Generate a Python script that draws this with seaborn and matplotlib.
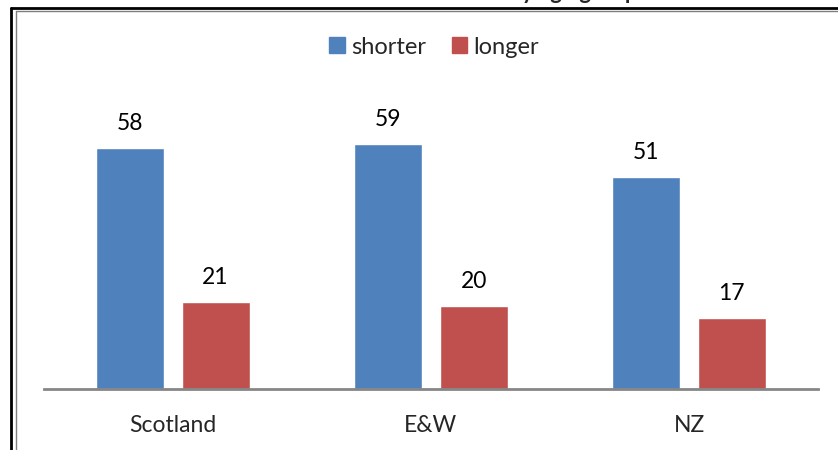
import matplotlib
matplotlib.use("Agg")
import matplotlib.pyplot as plt
import seaborn as sns
import pandas as pd
from matplotlib.lines import Line2D

# values
regions = ["Scotland", "E&W", "NZ"]
shorter = [58, 59, 51]
longer = [21, 20, 17]
series = ["shorter", "longer"]
colors = ["#4F81BD", "#C0504D"]

df = pd.DataFrame({
    "Region": regions * 2,
    "Group": ["shorter"] * 3 + ["longer"] * 3,
    "Value": shorter + longer,
})

sns.set_style("white")
plt.rcParams["font.family"] = ["Lato", "DejaVu Sans"]

W, H = 838, 450
fig = plt.figure(figsize=(W / 100, H / 100), dpi=100)
ax = fig.add_axes([44 / W, 1 - 389 / H, 774 / W, (389 - 98) / H])

sns.barplot(data=df, x="Region", y="Value", hue="Group", order=regions,
            hue_order=series, palette=colors, width=0.66, gap=0.2,
            saturation=1, ax=ax, legend=False)

for cont in ax.containers:
    ax.bar_label(cont, padding=10, fontsize=16.5, color="black")

ax.set_ylim(0, 70)
ax.set_xlim(-0.5, 2.5)
ax.set_xlabel("")
ax.set_ylabel("")
ax.set_yticks([])
ax.tick_params(axis="x", length=0, labelsize=16.5, pad=19)
for s in ["top", "right", "left"]:
    ax.spines[s].set_visible(False)
ax.spines["bottom"].set_color("#868686")
ax.spines["bottom"].set_linewidth(2)

handles = [plt.Rectangle((0, 0), 1, 1, color=c) for c in colors]
fig.legend(handles, series, loc="center", bbox_to_anchor=(434 / W, 1 - 47 / H),
           ncol=2, frameon=False, fontsize=17, handlelength=0.65, handleheight=0.65,
           handletextpad=0.25, columnspacing=1.1)

# title mostly cut off by the top edge of the image
fig.text(470 / W, 1 + 1 / H, "Preferred sentences by age group", ha="center",
         va="baseline", fontsize=16, fontweight="bold")

# outer chart frame (double line on top and left)
fig.add_artist(Line2D([11 / W, 1], [1 - 7.5 / H] * 2, color="black", lw=2,
                      transform=fig.transFigure))
fig.add_artist(Line2D([11 / W] * 2, [0, 1 - 7.5 / H], color="black", lw=2,
                      transform=fig.transFigure))
fig.add_artist(Line2D([16 / W, 1], [1 - 11 / H] * 2, color="#7f7f7f", lw=1,
                      transform=fig.transFigure))
fig.add_artist(Line2D([16 / W] * 2, [0, 1 - 11 / H], color="#7f7f7f", lw=1,
                      transform=fig.transFigure))

fig.savefig("out.png", dpi=100)
